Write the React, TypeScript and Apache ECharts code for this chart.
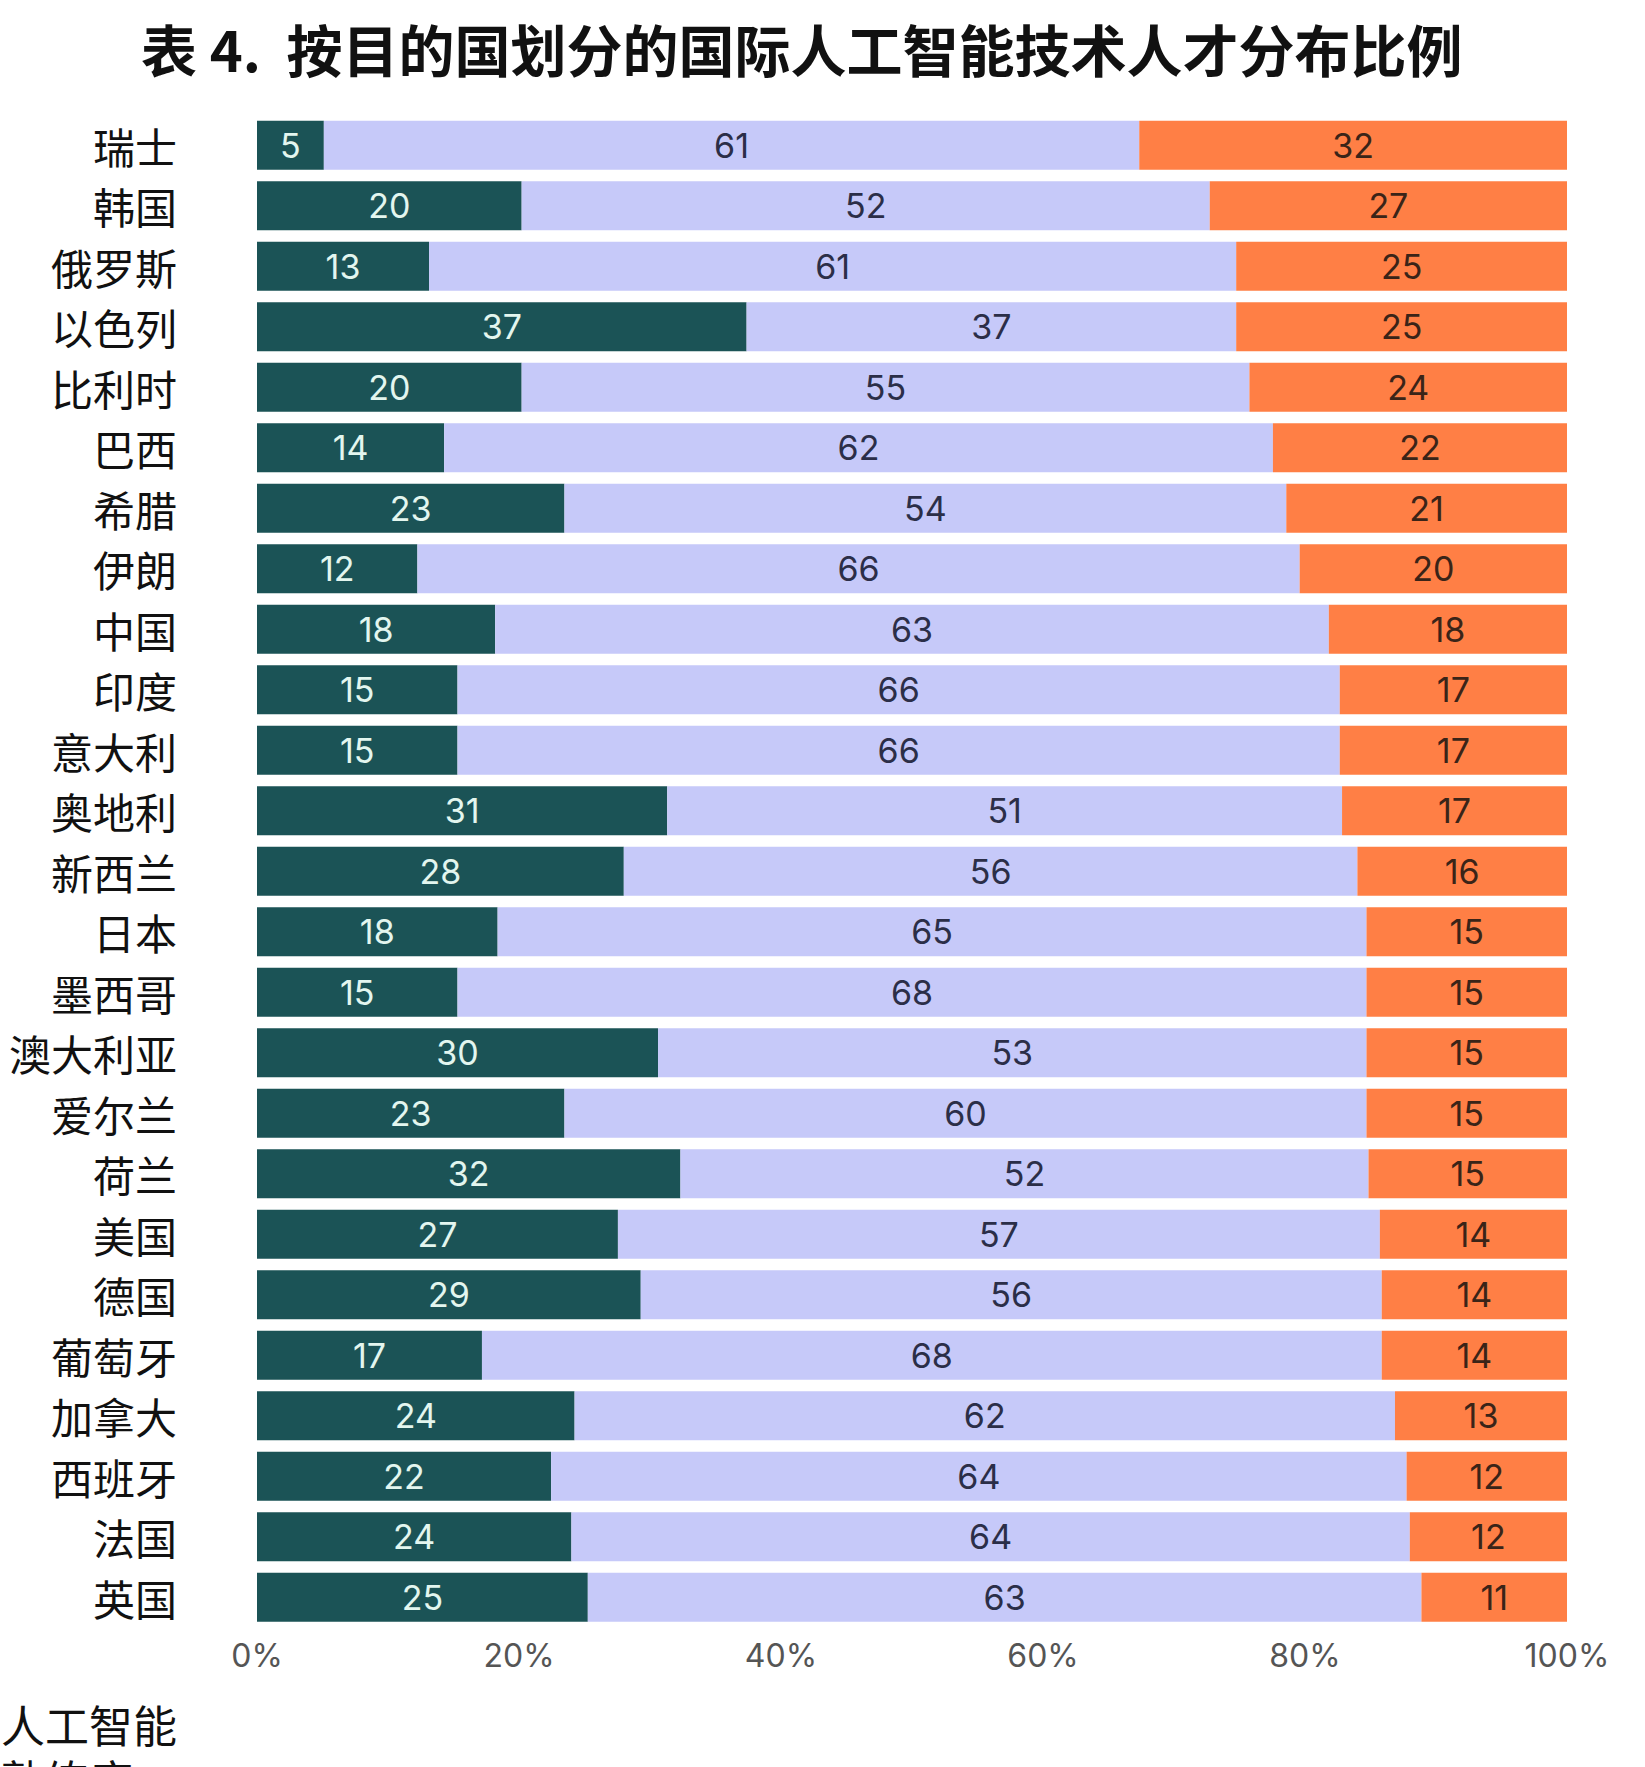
import React, { useEffect, useRef } from "react";
import * as echarts from "echarts";

const countries = [
  "瑞士", "韩国", "俄罗斯", "以色列", "比利时", "巴西", "希腊", "伊朗", "中国", "印度",
  "意大利", "奥地利", "新西兰", "日本", "墨西哥", "澳大利亚", "爱尔兰", "荷兰", "美国", "德国",
  "葡萄牙", "加拿大", "西班牙", "法国", "英国",
];
const lowValues = [5, 20, 13, 37, 20, 14, 23, 12, 18, 15, 15, 31, 28, 18, 15, 30, 23, 32, 27, 29, 17, 24, 22, 24, 25];
const midValues = [61, 52, 61, 37, 55, 62, 54, 66, 63, 66, 66, 51, 56, 65, 68, 53, 60, 52, 57, 56, 68, 62, 64, 64, 63];
const highValues = [32, 27, 25, 25, 24, 22, 21, 20, 18, 17, 17, 17, 16, 15, 15, 15, 15, 15, 14, 14, 14, 13, 12, 12, 11];
const tickValues = [0, 20, 40, 60, 80, 100];

const titleText = "表 4.  按目的国划分的国际人工智能技术人才分布比例";
const footText = "人工智能\n熟练度";

const colors = ["#1B5356", "#C6C9F9", "#FF7F45"];
const labelColors = ["#E3F6EF", "#2B2E48", "#3A2418"];

export default function App() {
  const ref = useRef<HTMLDivElement>(null);
  useEffect(() => {
    document.body.style.margin = "0";
    if (!ref.current) return;
    const chart = echarts.init(ref.current, undefined, { renderer: "svg" });
    const raw = [lowValues, midValues, highValues];
    const totals = countries.map((_, i) => lowValues[i] + midValues[i] + highValues[i]);
    const series = raw.map((arr, k) => ({
      type: "bar",
      stack: "total",
      barCategoryGap: "19%",
      data: arr.map((v, i) => (v / totals[i]) * 100),
      itemStyle: { color: colors[k] },
      label: {
        show: true,
        position: "inside",
        formatter: (p: any) => String(arr[p.dataIndex]),
        color: labelColors[k],
        fontFamily: "Inter, 'Noto Sans', sans-serif",
        fontSize: 34,
      },
    }));
    chart.setOption({
      animation: false,
      backgroundColor: "#ffffff",
      title: {
        text: titleText,
        left: 136,
        top: 14,
        textStyle: {
          fontFamily: "'Noto Sans CJK SC', sans-serif",
          fontWeight: "bold",
          fontSize: 56,
          color: "#111111",
        },
      },
      grid: { left: 257, right: 78, top: 115, height: 1512.5 },
      xAxis: {
        type: "value",
        min: 0,
        max: 100,
        interval: 20,
        axisLine: { show: false },
        axisTick: { show: false },
        splitLine: { show: false },
        axisLabel: {
          formatter: (v: number) => (tickValues.includes(v) ? v + "%" : ""),
          fontFamily: "Inter, 'Noto Sans', sans-serif",
          fontSize: 32,
          color: "#555555",
          margin: 12,
        },
      },
      yAxis: {
        type: "category",
        data: countries,
        inverse: true,
        axisLine: { show: false },
        axisTick: { show: false },
        axisLabel: {
          fontFamily: "'Noto Sans CJK SC', sans-serif",
          fontSize: 42,
          color: "#111111",
          margin: 80,
        },
      },
      graphic: [
        {
          type: "text",
          right: 1645 - 177,
          top: 1696,
          style: {
            text: footText,
            fontFamily: "'Noto Sans CJK SC', sans-serif",
            fontSize: 44,
            lineHeight: 55,
            fill: "#111111",
            align: "right",
          },
        },
      ],
      series,
    });
    return () => chart.dispose();
  }, []);
  return <div ref={ref} style={{ width: 1645, height: 1767 }} />;
}
